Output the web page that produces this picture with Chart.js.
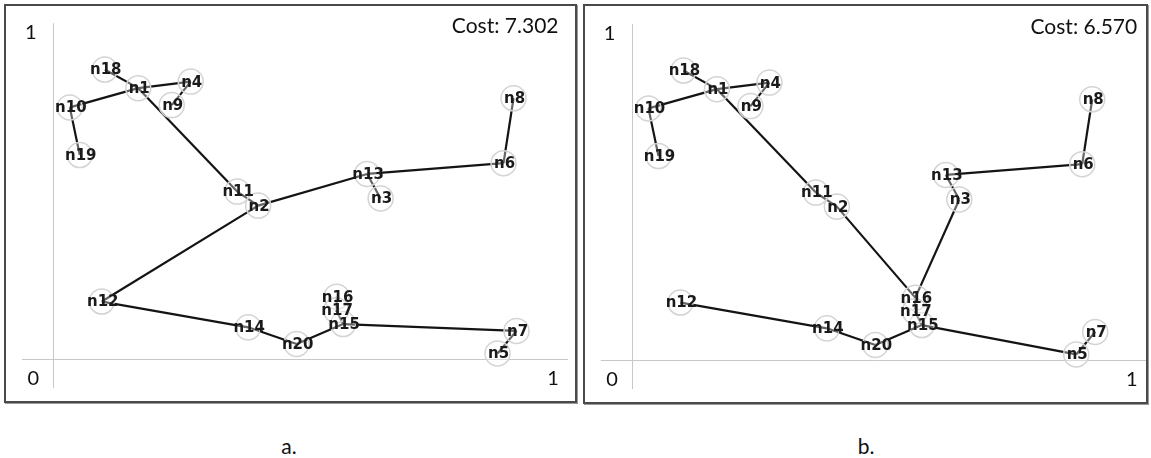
<!DOCTYPE html>
<html>
<head>
<meta charset="utf-8">
<script src="https://cdn.jsdelivr.net/npm/chart.js@4/dist/chart.umd.min.js"></script>
<style>
  html, body { margin: 0; padding: 0; background: #fff; }
  body { width: 1151px; height: 458px; position: relative; overflow: hidden; }
  .panel { position: absolute; box-sizing: border-box; border: 2px solid #4a4a4a; box-shadow: 1px 1px 0 #9a9a9a; }
  .panel canvas { display: block; }
  .caption { position: absolute; font-family: Lato, "Open Sans", sans-serif; font-size: 21px; color: #111; transform: translate(-50%, -50%); }
</style>
</head>
<body>
<div class="panel" id="panelA" style="left:4px; top:4px; width:573px; height:399px;">
  <canvas id="chartA" width="569" height="395"></canvas>
</div>
<div class="panel" id="panelB" style="left:583px; top:4px; width:565px; height:400px;">
  <canvas id="chartB" width="561" height="396"></canvas>
</div>
<div class="caption" style="left:289px; top:445px;">a.</div>
<div class="caption" style="left:866px; top:445px;">b.</div>

<script>
// Node layout in the unit square (same positions in both layouts)
const nodeNames = ['n1','n2','n3','n4','n5','n6','n7','n8','n9','n10',
                   'n11','n12','n13','n14','n15','n16','n17','n18','n19','n20'];
const nodeX = [0.170, 0.410, 0.655, 0.275, 0.889, 0.901, 0.927, 0.921, 0.237, 0.033,
               0.368, 0.097, 0.628, 0.390, 0.580, 0.567, 0.566, 0.103, 0.053, 0.487];
const nodeY = [0.831, 0.471, 0.493, 0.851, 0.018, 0.601, 0.087, 0.800, 0.779, 0.772,
               0.514, 0.177, 0.568, 0.098, 0.108, 0.192, 0.150, 0.888, 0.626, 0.047];

// Tree edges of each solution
const edgesA = [['n18','n1'],['n1','n4'],['n4','n9'],['n1','n10'],['n10','n19'],
                ['n1','n11'],['n11','n2'],['n2','n13'],['n13','n3'],['n13','n6'],
                ['n6','n8'],['n2','n12'],['n12','n14'],['n14','n20'],['n20','n15'],
                ['n15','n17'],['n17','n16'],['n15','n7'],['n7','n5']];
const edgesB = [['n18','n1'],['n1','n4'],['n4','n9'],['n1','n10'],['n10','n19'],
                ['n1','n11'],['n11','n2'],['n2','n16'],['n16','n3'],['n3','n13'],
                ['n13','n6'],['n6','n8'],['n12','n14'],['n14','n20'],['n20','n15'],
                ['n15','n5'],['n5','n7'],['n15','n17'],['n17','n16']];

const costA = 7.302;
const costB = 6.570;
const axisTicks = ['0', '1'];

function pointOf(name) {
  const i = nodeNames.indexOf(name);
  return { x: nodeX[i], y: nodeY[i] };
}

// Axes, tick labels, cost and node names drawn against the chart scales
const graphDecor = {
  id: 'graphDecor',
  beforeDatasetsDraw(chart) {
    const { ctx, scales: { x, y } } = chart;
    const x0 = x.getPixelForValue(0), x1 = x.getPixelForValue(1);
    const y0 = y.getPixelForValue(0), y1 = y.getPixelForValue(1);
    ctx.save();
    ctx.strokeStyle = '#c8c8c8';
    ctx.lineWidth = 1;
    ctx.beginPath();
    ctx.moveTo(Math.round(x0) + 0.5, y.getPixelForValue(1.03));
    ctx.lineTo(Math.round(x0) + 0.5, y.getPixelForValue(-0.088));
    ctx.moveTo(x.getPixelForValue(-0.0626), Math.round(y0) + 0.5);
    ctx.lineTo(x.getPixelForValue(1.03), Math.round(y0) + 0.5);
    ctx.stroke();

    ctx.fillStyle = '#111';
    ctx.font = '20px Lato, "Open Sans", sans-serif';
    ctx.textAlign = 'center';
    ctx.textBaseline = 'middle';
    ctx.fillText(axisTicks[1], x0 - 22.5, y1);
    ctx.fillText(axisTicks[0], x0 - 20, y0 + 19);
    ctx.fillText(axisTicks[1], x1, y0 + 19);

    ctx.font = '21px Lato, "Open Sans", sans-serif';
    ctx.textAlign = 'right';
    ctx.fillText('Cost: ' + chart.options.plugins.graphDecor.cost.toFixed(3), x.getPixelForValue(1.011), y1 - 7);
    ctx.restore();
  },
  afterDatasetsDraw(chart) {
    const { ctx } = chart;
    const meta = chart.getDatasetMeta(chart.data.datasets.length - 1);
    ctx.save();
    ctx.font = 'bold 15px "DejaVu Sans", Verdana, sans-serif';
    ctx.fillStyle = '#1a1a1a';
    ctx.textAlign = 'center';
    ctx.textBaseline = 'middle';
    meta.data.forEach((pt, i) => {
      ctx.fillText(nodeNames[i], pt.x + 1, pt.y + 1);
    });
    ctx.restore();
  }
};

function buildChart(canvasId, edges, cost, padding) {
  const datasets = edges.map(([a, b]) => ({
    data: [pointOf(a), pointOf(b)],
    showLine: true,
    borderColor: '#141414',
    borderWidth: 2.2,
    pointRadius: 0,
    pointHoverRadius: 0,
    clip: false,
    order: 2
  }));
  datasets.push({
    data: nodeNames.map(pointOf),
    showLine: false,
    pointRadius: 12.5,
    pointHoverRadius: 12.5,
    pointBackgroundColor: 'rgba(255,255,255,0.35)',
    pointBorderColor: '#d4d4d4',
    pointBorderWidth: 1.5,
    clip: false,
    order: 1
  });
  return new Chart(document.getElementById(canvasId), {
    type: 'scatter',
    data: { datasets },
    options: {
      responsive: false,
      animation: false,
      layout: { padding },
      scales: {
        x: { type: 'linear', min: 0, max: 1, display: false },
        y: { type: 'linear', min: 0, max: 1, display: false }
      },
      plugins: {
        legend: { display: false },
        tooltip: { enabled: false },
        graphDecor: { cost }
      }
    },
    plugins: [graphDecor]
  });
}

buildChart('chartA', edgesA, costA, { left: 47.3, right: 22, top: 27, bottom: 41.7 });
buildChart('chartB', edgesB, costB, { left: 47, right: 14.3, top: 28, bottom: 41.7 });
</script>
</body>
</html>
